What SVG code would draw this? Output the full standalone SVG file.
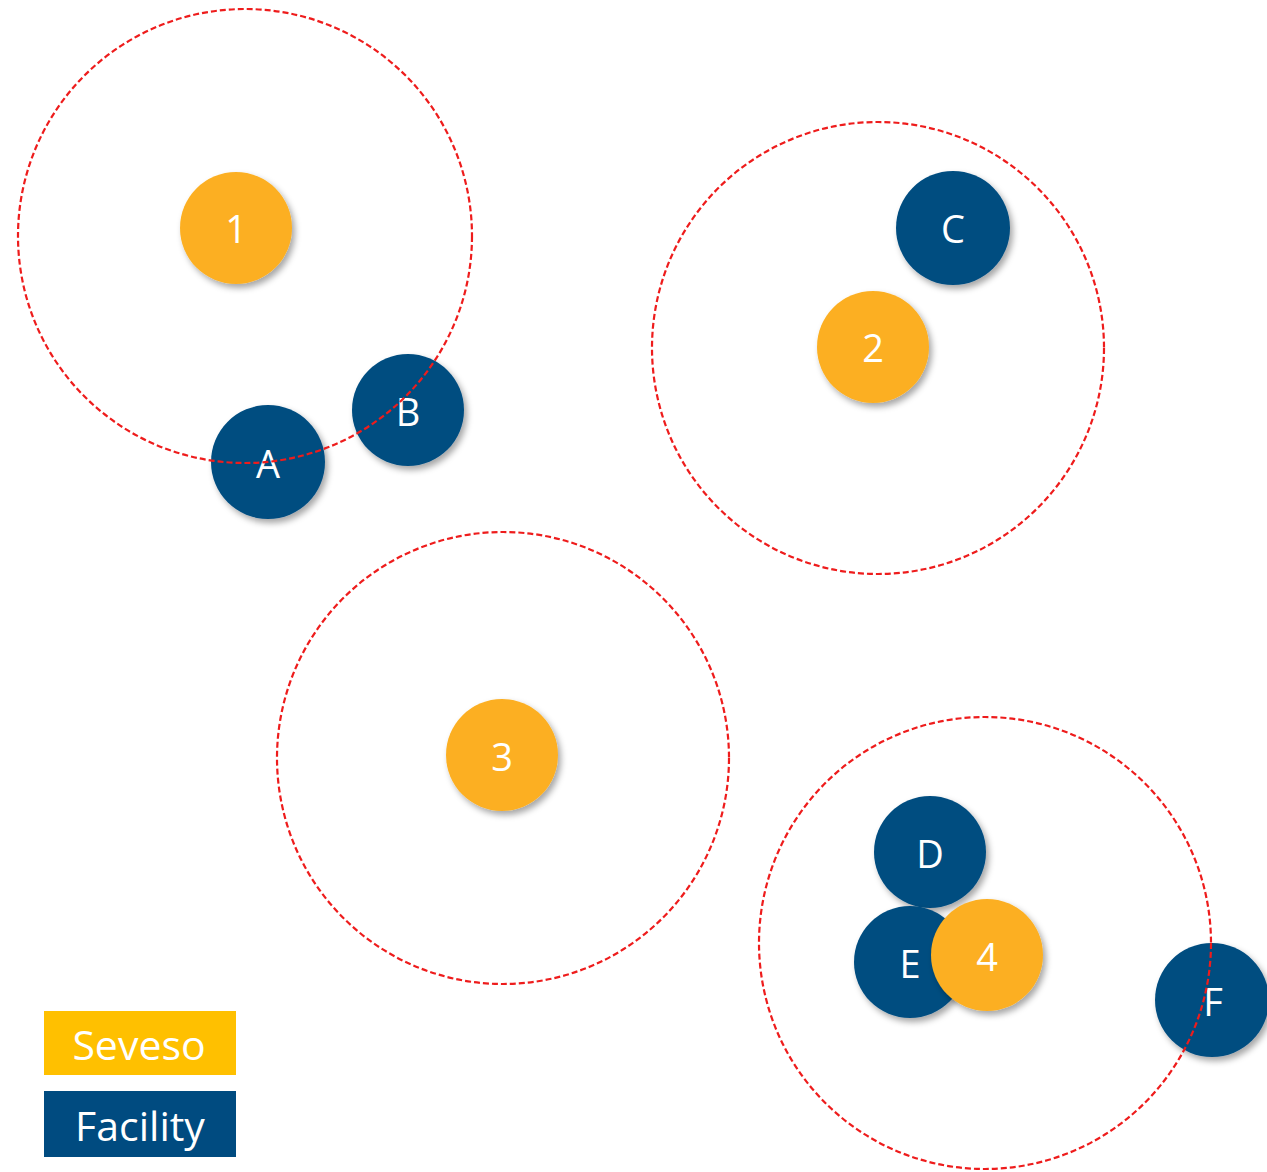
<svg xmlns="http://www.w3.org/2000/svg" width="1267" height="1172" viewBox="0 0 1267 1172">
<defs>
<filter id="sh" x="-30%" y="-30%" width="160%" height="160%">
<feDropShadow dx="3" dy="4" stdDeviation="3" flood-color="#000" flood-opacity="0.35"/>
</filter>
</defs>
<style>
.sev{fill:#FCAF22;filter:url(#sh)}
.fac{fill:#034D80;filter:url(#sh)}
.lbl{font-family:"Open Sans","Liberation Sans",sans-serif;font-size:38px;fill:#fff;text-anchor:middle;dominant-baseline:central}
.zone{fill:none;stroke:#EE1C1C;stroke-width:2.2;stroke-dasharray:6 3}
.leg{font-family:"Open Sans","Liberation Sans",sans-serif;font-size:41px;fill:#fff;text-anchor:middle;dominant-baseline:central}
</style>
<rect width="1267" height="1172" fill="#fff"/>
<g id="n1"><circle class="sev" cx="236" cy="228" r="56"/><text class="lbl" x="236" y="228">1</text></g>
<g id="nA"><circle class="fac" cx="268" cy="462" r="57"/><text class="lbl" x="268" y="463">A</text></g>
<g id="nB"><circle class="fac" cx="408" cy="410" r="56"/><text class="lbl" x="408" y="411">B</text></g>
<g id="nC"><circle class="fac" cx="953" cy="228" r="57"/><text class="lbl" x="953" y="228">C</text></g>
<g id="n2"><circle class="sev" cx="873" cy="347" r="56"/><text class="lbl" x="873" y="347">2</text></g>
<g id="n3"><circle class="sev" cx="502" cy="755" r="56"/><text class="lbl" x="502" y="756">3</text></g>
<g id="nD"><circle class="fac" cx="930" cy="852" r="56"/><text class="lbl" x="930" y="853">D</text></g>
<g id="nE"><circle class="fac" cx="910" cy="962" r="56"/><text class="lbl" x="910" y="963">E</text></g>
<g id="n4"><circle class="sev" cx="987" cy="955" r="56"/><text class="lbl" x="987" y="956">4</text></g>
<g id="nF"><circle class="fac" cx="1212" cy="1000" r="57"/><text class="lbl" x="1213" y="1001">F</text></g>
<g id="zones">
<circle class="zone" cx="245" cy="236" r="227"/>
<circle class="zone" cx="878" cy="348" r="226"/>
<circle class="zone" cx="503" cy="758" r="226"/>
<circle class="zone" cx="985" cy="943" r="226"/>
</g>
<g id="legend-seveso"><rect x="44" y="1011" width="192" height="64" fill="#FFC000"/><text class="leg" x="139" y="1044">Seveso</text></g>
<g id="legend-facility"><rect x="44" y="1091" width="192" height="66" fill="#004B80"/><text class="leg" x="140" y="1125">Facility</text></g>
</svg>
